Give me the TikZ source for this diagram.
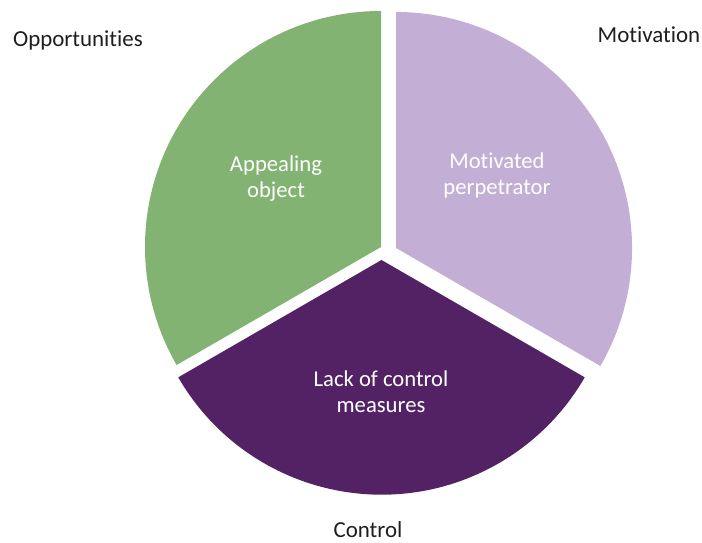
\documentclass[tikz,border=0pt]{standalone}
\usepackage{fontspec}
\setmainfont[Ligatures=NoCommon]{Carlito}
\definecolor{pgreen}{RGB}{130,179,114}
\definecolor{plilac}{RGB}{195,174,214}
\definecolor{ppurple}{RGB}{82,34,101}
\definecolor{ptext}{RGB}{30,30,30}
\begin{document}
\begin{tikzpicture}[x=0.75pt,y=0.75pt,
  inlabel/.style={text=white,align=center,font=\fontsize{17}{19.5}\selectfont,inner sep=0pt},
  outlabel/.style={text=ptext,align=center,font=\fontsize{17.2}{19.5}\selectfont,inner sep=0pt}]
\useasboundingbox (0,0) rectangle (702,542);
\coordinate (gv) at (381,295);
\coordinate (lv) at (396,294);
\coordinate (pv) at (381.5,282);
\fill[pgreen] (gv) -- ++(90:177pt) arc[start angle=90,end angle=210,radius=177pt] -- cycle;
\fill[plilac] (lv) -- ++(-30:177pt) arc[start angle=-30,end angle=90,radius=177pt] -- cycle;
\fill[ppurple] (pv) -- ++(210:176pt) arc[start angle=210,end angle=330,radius=176pt] -- cycle;
\node[inlabel] (ao) at (276,363) {Appealing\\object};
\node[inlabel] (mp) at (497,367) {Motivated\\perpetrator};
\node[inlabel] (lc) at (381,150) {Lack of control\\measures};
\node[outlabel] (op) at (78,502) {Opportunities};
\node[outlabel] (mo) at (649,507) {Motivation};
\node[outlabel] (co) at (368,12) {Control};
\end{tikzpicture}
\end{document}
